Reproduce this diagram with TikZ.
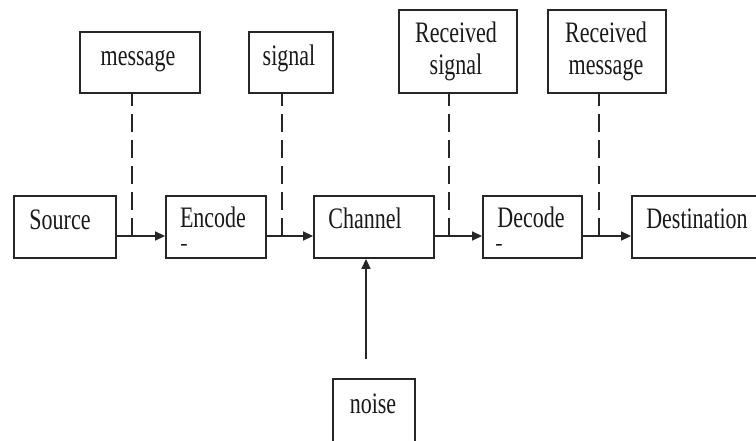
\documentclass[tikz,border=0pt]{standalone}
\usepackage{fontspec}
\setmainfont{Liberation Serif}
\usetikzlibrary{arrows.meta}
\newcommand{\tx}[1]{\scalebox{1}[1.35]{#1}}
\begin{document}
\begin{tikzpicture}[x=1pt,y=-1pt,
  box/.style={draw=black!85, line width=1.8pt, rectangle, inner sep=0pt},
  txt/.style={inner sep=0pt, anchor=base, text=black!90, font=\fontsize{22}{24}\selectfont},
  arr/.style={draw=black!85, line width=1.5pt, -{Triangle[length=10pt,width=9pt]}},
  dsh/.style={draw=black!85, line width=1.7pt, dash pattern=on 18pt off 8pt}]
\useasboundingbox (0,0) rectangle (756,440);
\fill[white] (0,0) rectangle (756,440);
% boxes
\node[box, minimum width=120, minimum height=61] (msg) at (140,62.5) {};
\node[box, minimum width=84, minimum height=61] (sig) at (291,62.5) {};
\node[box, minimum width=118, minimum height=83] (rsig) at (458,51.5) {};
\node[box, minimum width=118, minimum height=83] (rmsg) at (607,51.5) {};
\node[box, minimum width=102, minimum height=62] (src) at (65,227) {};
\node[box, minimum width=100, minimum height=62] (enc) at (216,227) {};
\node[box, minimum width=120, minimum height=62] (chan) at (374,227) {};
\node[box, minimum width=99, minimum height=62] (dec) at (532.5,227) {};
\node[box, minimum width=128, minimum height=62] (dest) at (696,227) {};
\node[box, minimum width=82, minimum height=66] (noise) at (374,412) {};
% texts
\node[txt] (msgt) at (138,65) {\tx{message}};
\node[txt] (sigt) at (289,65) {\tx{signal}};
\node[txt] (rsigt) at (456,42) {\tx{\begin{tabular}[t]{@{}c@{}}Received\\signal\end{tabular}}};
\node[txt] (rmsgt) at (606,42) {\tx{\begin{tabular}[t]{@{}c@{}}Received\\message\end{tabular}}};
\node[txt] (srct) at (60,229) {\tx{Source}};
\node[txt] (enct) at (213,227) {\tx{Encode}};
\node[txt] (encd) at (184,250) {-};
\node[txt] (chant) at (365,228) {\tx{Channel}};
\node[txt] (dect) at (531,227) {\tx{Decode}};
\node[txt] (decd) at (499,250) {-};
\node[txt] (destt) at (697,228) {\tx{Destination}};
\node[txt] (noiset) at (373,413) {\tx{noise}};
% junctions
\coordinate (j1) at (132,236);
\coordinate (j2) at (282,236);
\coordinate (j3) at (449,236);
\coordinate (j4) at (599,236);
\coordinate (nz) at (366,359);
% arrows
\draw[arr] (src.east |- j1) -- (enc.west |- j1);
\draw[arr] (enc.east |- j2) -- (chan.west |- j2);
\draw[arr] (chan.east |- j3) -- (dec.west |- j3);
\draw[arr] (dec.east |- j4) -- (dest.west |- j4);
\draw[arr] (nz) -- (chan.south -| nz);
% dashed
\draw[dsh] (j1) -- (j1 |- msg.south);
\draw[dsh] (j2) -- (j2 |- sig.south);
\draw[dsh] (j3) -- (j3 |- rsig.south);
\draw[dsh] (j4) -- (j4 |- rmsg.south);
\end{tikzpicture}
\end{document}
